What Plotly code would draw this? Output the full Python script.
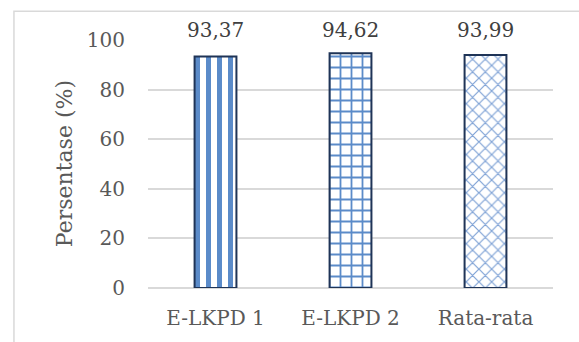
import plotly.graph_objects as go

# Data
categories = ["E-LKPD 1", "E-LKPD 2", "Rata-rata"]
values = [93.37, 94.62, 93.99]
value_labels = ["93,37", "94,62", "93,99"]
y_ticks = [0, 20, 40, 60, 80, 100]

FONT = "DejaVu Serif"
TEXT_GRAY = "#595959"
LABEL_GRAY = "#404040"
BLUE = "#5b8bc9"
EDGE = "#1f3457"

# Each bar gets its own fill pattern
patterns = [
    dict(shape="|", fgcolor=BLUE, bgcolor="white", size=11, solidity=0.45, fillmode="replace"),
    dict(shape="+", fgcolor=BLUE, bgcolor="white", size=11, solidity=0.3, fillmode="replace"),
    dict(shape="x", fgcolor="#7fa3d6", bgcolor="white", size=9, solidity=0.25, fillmode="replace"),
]

fig = go.Figure()
for cat, val, pat in zip(categories, values, patterns):
    fig.add_trace(go.Bar(
        x=[cat], y=[val],
        marker=dict(color="white", pattern=pat, line=dict(color=EDGE, width=2)),
        width=0.31,
        showlegend=False,
    ))

# Value labels, set in a row just above the top gridline
for cat, txt in zip(categories, value_labels):
    fig.add_annotation(
        x=cat, y=100, xref="x", yref="y", text=txt, showarrow=False,
        yanchor="bottom", yshift=-4,
        font=dict(family=FONT, size=20, color=LABEL_GRAY),
    )

# Y-axis title
fig.add_annotation(
    x=-0.207, y=0.5, xref="paper", yref="paper", text="Persentase (%)",
    textangle=-90, showarrow=False, xanchor="center", yanchor="middle",
    font=dict(family=FONT, size=22, color=TEXT_GRAY),
)

# Chart-area frame
fig.add_shape(
    type="rect", xref="paper", yref="paper",
    x0=-0.331, x1=1.3, y0=-0.5, y1=1.116,
    line=dict(color="#d9d9d9", width=1.5), layer="below",
)

fig.update_layout(
    width=579, height=342,
    margin=dict(l=148, r=26, t=40, b=52),
    paper_bgcolor="white", plot_bgcolor="white",
    barmode="overlay",
    font=dict(family=FONT, size=20, color=TEXT_GRAY),
    xaxis=dict(
        type="category", showgrid=False, zeroline=False,
        showline=False, ticks="", ticklabelstandoff=16,
        tickfont=dict(family=FONT, size=20, color=TEXT_GRAY),
    ),
    yaxis=dict(
        range=[0, 100], tickvals=y_ticks, ticktext=[str(t) for t in y_ticks],
        showgrid=True, gridcolor="#d9d9d9", gridwidth=1.5,
        zeroline=True, zerolinecolor="#d9d9d9", zerolinewidth=1.5,
        showline=False, ticks="", ticklabelstandoff=22,
        tickfont=dict(family=FONT, size=20, color=TEXT_GRAY),
    ),
)

fig.write_html("out.html")
